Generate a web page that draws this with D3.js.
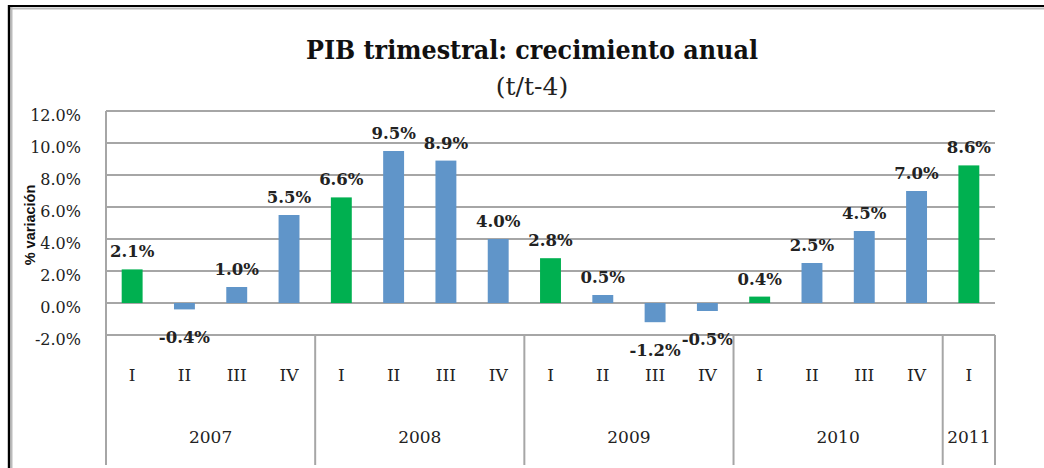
<!DOCTYPE html>
<html>
<head>
<meta charset="utf-8">
<script src="https://cdn.jsdelivr.net/npm/d3@7"></script>
<style>
  html, body { margin: 0; padding: 0; background: #fff; }
  svg { display: block; }
</style>
</head>
<body>
<svg id="chart" width="1044" height="468"></svg>
<script>
// ---- Data ----
const quarters = ["I","II","III","IV","I","II","III","IV","I","II","III","IV","I","II","III","IV","I"];
const years = ["2007","2007","2007","2007","2008","2008","2008","2008","2009","2009","2009","2009","2010","2010","2010","2010","2011"];
const values = [2.1, -0.4, 1.0, 5.5, 6.6, 9.5, 8.9, 4.0, 2.8, 0.5, -1.2, -0.5, 0.4, 2.5, 4.5, 7.0, 8.6];
const yTicks = [-2, 0, 2, 4, 6, 8, 10, 12];
const yearGroups = ["2007","2008","2009","2010","2011"];
const titleText = "PIB trimestral: crecimiento anual";
const subtitleText = "(t/t-4)";
const yAxisTitle = "% variación";

const svg = d3.select("#chart");
const serif = "'DejaVu Serif', 'Liberation Serif', serif";
const sans = "'Liberation Sans', 'DejaVu Sans', sans-serif";
const pct = v => v.toFixed(1) + "%";

const plotLeft = 106, plotRight = 995, plotTop = 111, plotBottom = 335, axisBottom = 465;
const ids = values.map((v, i) => i);

const x = d3.scaleBand().domain(ids).range([plotLeft, plotRight]).paddingInner(0.6).paddingOuter(0.3);
const slot = d3.scaleBand().domain(ids).range([plotLeft, plotRight]).padding(0);
const y = d3.scaleLinear().domain([-2, 12]).range([plotBottom, plotTop]);

// ---- Frame ----
svg.append("line").attr("x1", 8).attr("x2", 1044).attr("y1", 8.5).attr("y2", 8.5).attr("stroke", "#bbb").attr("stroke-width", 2);
svg.append("line").attr("x1", 11.5).attr("x2", 11.5).attr("y1", 6).attr("y2", 468).attr("stroke", "#bbb").attr("stroke-width", 2);
svg.append("line").attr("x1", 8).attr("x2", 1044).attr("y1", 6).attr("y2", 6).attr("stroke", "#000").attr("stroke-width", 2.2);
svg.append("line").attr("x1", 9).attr("x2", 9).attr("y1", 5).attr("y2", 468).attr("stroke", "#000").attr("stroke-width", 2.4);

// ---- Titles ----
svg.append("text").attr("x", 532).attr("y", 59).attr("text-anchor", "middle")
  .attr("font-family", serif).attr("font-weight", "bold").attr("font-size", 26).attr("fill", "#111")
  .attr("textLength", 452).attr("lengthAdjust", "spacingAndGlyphs")
  .text(titleText);
svg.append("text").attr("x", 532).attr("y", 95).attr("text-anchor", "middle")
  .attr("font-family", serif).attr("font-size", 25).attr("fill", "#222")
  .text(subtitleText);

// ---- Gridlines ----
const gridColor = "#a6a6a6";
svg.append("g").selectAll("line").data(yTicks).join("line")
  .attr("x1", plotLeft).attr("x2", plotRight)
  .attr("y1", d => y(d)).attr("y2", d => y(d))
  .attr("stroke", gridColor).attr("stroke-width", 2);

// value axis line
svg.append("line").attr("x1", plotLeft).attr("x2", plotLeft).attr("y1", plotTop).attr("y2", plotBottom)
  .attr("stroke", gridColor).attr("stroke-width", 2);

// ---- Y axis labels via d3 axis ----
const yAxis = d3.axisLeft(y).tickValues(yTicks).tickSize(0).tickPadding(0).tickFormat(pct);
const yg = svg.append("g").attr("transform", `translate(81,4)`).call(yAxis);
yg.select(".domain").remove();
yg.selectAll("text").attr("font-family", serif).attr("font-size", 16).attr("fill", "#222");

// y axis title
svg.append("text").attr("transform", "translate(35,225) rotate(-90)").attr("text-anchor", "middle")
  .attr("font-family", sans).attr("font-weight", "bold").attr("font-size", 14.5).attr("fill", "#111")
  .text(yAxisTitle);

// ---- Bars ----
svg.append("g").selectAll("rect").data(ids).join("rect")
  .attr("x", i => x(i))
  .attr("width", x.bandwidth())
  .attr("y", i => y(Math.max(0, values[i])))
  .attr("height", i => Math.abs(y(values[i]) - y(0)))
  .attr("fill", i => quarters[i] === "I" ? "#00b050" : "#6095c9");

// ---- Data labels ----
svg.append("g").selectAll("text").data(ids).join("text")
  .attr("x", i => x(i) + x.bandwidth() / 2)
  .attr("y", i => values[i] >= 0 ? y(values[i]) - 12 : y(values[i]) + 34)
  .attr("text-anchor", "middle")
  .attr("font-family", serif).attr("font-weight", "bold").attr("font-size", 16.5).attr("fill", "#222")
  .text(i => pct(values[i]));

// ---- Category axis ----
svg.append("g").selectAll("text").data(ids).join("text")
  .attr("x", i => slot(i) + slot.bandwidth() / 2)
  .attr("y", 381)
  .attr("text-anchor", "middle")
  .attr("font-family", serif).attr("font-size", 17).attr("fill", "#222")
  .text(i => quarters[i]);

// year groups
const groupInfo = yearGroups.map(yr => {
  const idx = ids.filter(i => years[i] === yr);
  return { yr, x0: slot(idx[0]), x1: slot(idx[idx.length - 1]) + slot.bandwidth() };
});
const bounds = [plotLeft].concat(groupInfo.map(g => g.x1));
svg.append("g").selectAll("line").data(bounds).join("line")
  .attr("x1", d => d).attr("x2", d => d).attr("y1", plotBottom).attr("y2", axisBottom)
  .attr("stroke", gridColor).attr("stroke-width", 2);
svg.append("g").selectAll("text").data(groupInfo).join("text")
  .attr("x", g => (g.x0 + g.x1) / 2)
  .attr("y", 443)
  .attr("text-anchor", "middle")
  .attr("font-family", serif).attr("font-size", 17).attr("fill", "#222")
  .text(g => g.yr);
</script>
</body>
</html>
